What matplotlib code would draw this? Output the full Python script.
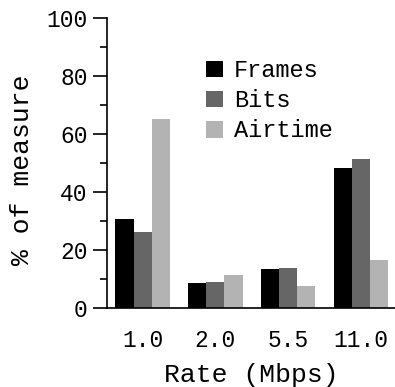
import numpy as np
import matplotlib
matplotlib.use("Agg")
import matplotlib.pyplot as plt
from matplotlib.ticker import MultipleLocator

rates = ["1.0", "2.0", "5.5", "11.0"]
frames = [30.6, 8.5, 13.3, 48.2]
bits = [26.3, 9.1, 13.9, 51.3]
airtime = [65.2, 11.4, 7.5, 16.4]

plt.rcParams['font.family'] = ['Liberation Mono', 'DejaVu Sans Mono']
fs_tick = 16.5
fs_lab = 19
fs_leg = 17

fig = plt.figure(figsize=(3.95, 3.87), dpi=100)
ax = fig.add_axes([107 / 395, 79 / 387, 288 / 395, 290 / 387])

x = np.arange(len(rates))
w = 0.25
ax.bar(x - w, frames, w, color="black", label="Frames")
ax.bar(x, bits, w, color="#666666", label="Bits")
ax.bar(x + w, airtime, w, color="#b3b3b3", label="Airtime")

ax.set_xlim(-0.49, 3.47)
ax.set_ylim(0, 100)
ax.set_xticks(x)
ax.set_xticklabels(rates)
ax.yaxis.set_major_locator(MultipleLocator(20))
ax.yaxis.set_minor_locator(MultipleLocator(10))
ax.tick_params(axis='y', which='major', length=10, width=1.2, direction='out', labelsize=fs_tick, pad=4)
ax.tick_params(axis='y', which='minor', length=5, width=1.2, direction='out')
ax.tick_params(axis='x', length=0, labelsize=fs_tick, pad=15)

for s in ['top', 'right']:
    ax.spines[s].set_visible(False)
ax.spines['left'].set_linewidth(1.2)
ax.spines['bottom'].set_linewidth(1.2)

ax.set_xlabel("Rate (Mbps)", fontsize=fs_lab, labelpad=8)
ax.set_ylabel("% of measure", fontsize=fs_lab)
ax.yaxis.set_label_coords(-0.255, 0.476)

ax.legend(loc='upper left', bbox_to_anchor=(0.344, 0.858), frameon=False,
          fontsize=fs_leg, handlelength=0.72, handleheight=0.72,
          handletextpad=0.47, labelspacing=0.3, borderpad=0, borderaxespad=0)

fig.savefig("out.png", dpi=100)
